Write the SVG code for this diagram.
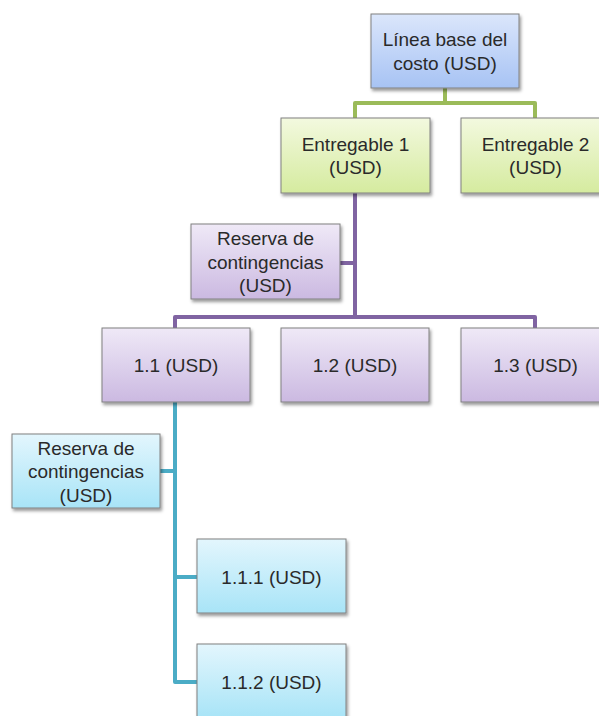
<svg xmlns="http://www.w3.org/2000/svg" width="599" height="716" viewBox="0 0 599 716">
  <defs>
    <linearGradient id="gBlue" x1="0" y1="0" x2="0" y2="1">
      <stop offset="0" stop-color="#dbe6fb"/>
      <stop offset="1" stop-color="#a7c3f4"/>
    </linearGradient>
    <linearGradient id="gGreen" x1="0" y1="0" x2="0" y2="1">
      <stop offset="0" stop-color="#f3f9df"/>
      <stop offset="1" stop-color="#d5eb9f"/>
    </linearGradient>
    <linearGradient id="gPurple" x1="0" y1="0" x2="0" y2="1">
      <stop offset="0" stop-color="#efe9f7"/>
      <stop offset="1" stop-color="#cbb9e1"/>
    </linearGradient>
    <linearGradient id="gTeal" x1="0" y1="0" x2="0" y2="1">
      <stop offset="0" stop-color="#e3f6fd"/>
      <stop offset="1" stop-color="#a8e4f7"/>
    </linearGradient>
    <filter id="shadow" x="-10%" y="-10%" width="125%" height="130%">
      <feDropShadow dx="1.5" dy="2.5" stdDeviation="1.8" flood-color="#000" flood-opacity="0.4"/>
    </filter>
  </defs>
  <style>
    .box { stroke: #808080; stroke-width: 1; filter: url(#shadow); }
    .blue { fill: url(#gBlue); }
    .green { fill: url(#gGreen); }
    .purple { fill: url(#gPurple); }
    .teal { fill: url(#gTeal); }
    .lbl { font-family: "Liberation Sans", Arial, sans-serif; font-size: 19px; fill: #2a2a2a; text-anchor: middle; }
    .conn { fill: none; stroke-width: 4; stroke-linejoin: round; stroke-linecap: butt; }
    .cg { stroke: #9bbb59; }
    .cp { stroke: #8064a2; }
    .ct { stroke: #4bacc6; }
  </style>

  <rect width="599" height="716" fill="#ffffff"/>

  <!-- connectors -->
  <g id="connectors">
    <path class="conn cg" d="M445 88 V103 M355 118 V103 H535 V118"/>
    <path class="conn cp" d="M355 193 V317 M340 263 H355 M175 328 V317 H535 V328"/>
    <path class="conn ct" d="M175 402 V682 H197 M160 471 H175 M175 577 H197"/>
  </g>

  <!-- nodes -->
  <g id="n-base">
    <rect class="box blue" x="371" y="14" width="148" height="74"/>
    <text class="lbl" x="445" y="46">Línea base del</text>
    <text class="lbl" x="445" y="69.5">costo (USD)</text>
  </g>
  <g id="n-e1">
    <rect class="box green" x="281" y="118" width="149" height="75"/>
    <text class="lbl" x="355.5" y="150.5">Entregable 1</text>
    <text class="lbl" x="355.5" y="174">(USD)</text>
  </g>
  <g id="n-e2">
    <rect class="box green" x="461" y="118" width="149" height="75"/>
    <text class="lbl" x="535.5" y="150.5">Entregable 2</text>
    <text class="lbl" x="535.5" y="174">(USD)</text>
  </g>
  <g id="n-res1">
    <rect class="box purple" x="191" y="224" width="149" height="75"/>
    <text class="lbl" x="265.5" y="245">Reserva de</text>
    <text class="lbl" x="265.5" y="268.5">contingencias</text>
    <text class="lbl" x="265.5" y="292">(USD)</text>
  </g>
  <g id="n-11">
    <rect class="box purple" x="102" y="328" width="148" height="74"/>
    <text class="lbl" x="176" y="372">1.1 (USD)</text>
  </g>
  <g id="n-12">
    <rect class="box purple" x="281" y="328" width="148" height="74"/>
    <text class="lbl" x="355" y="372">1.2 (USD)</text>
  </g>
  <g id="n-13">
    <rect class="box purple" x="461" y="328" width="149" height="74"/>
    <text class="lbl" x="535.5" y="372">1.3 (USD)</text>
  </g>
  <g id="n-res2">
    <rect class="box teal" x="12" y="434" width="148" height="74"/>
    <text class="lbl" x="86" y="454.5">Reserva de</text>
    <text class="lbl" x="86" y="478">contingencias</text>
    <text class="lbl" x="86" y="501.5">(USD)</text>
  </g>
  <g id="n-111">
    <rect class="box teal" x="197" y="539" width="149" height="74"/>
    <text class="lbl" x="271.5" y="583.5">1.1.1 (USD)</text>
  </g>
  <g id="n-112">
    <rect class="box teal" x="197" y="644" width="149" height="74"/>
    <text class="lbl" x="271.5" y="688.5">1.1.2 (USD)</text>
  </g>
</svg>
